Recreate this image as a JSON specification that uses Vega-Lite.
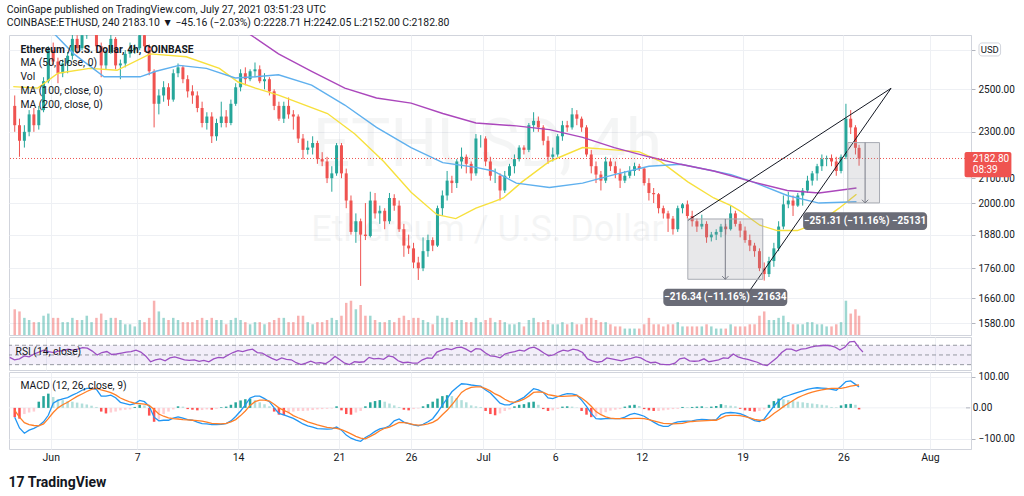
{
"$schema": "https://vega.github.io/schema/vega-lite/v6.json",
"padding": {"left": 6, "top": 4, "right": 0, "bottom": 0},
"background": "white",
"config": {"font": "Roboto", "view": {"stroke": "#d1d4dc"}, "axis": {"labelFont": "Roboto", "labelColor": "#131722", "gridColor": "#eef0f4", "domainColor": "#d1d4dc", "tickColor": "#b2b5be"}},
"title": {"text": "CoinGape published on TradingView.com, July 27, 2021 03:51:23 UTC", "subtitle": "COINBASE:ETHUSD, 240  2183.10 ▼ −45.16 (−2.03%)  O:2228.71 H:2242.05 L:2152.00 C:2182.80", "anchor": "start", "fontSize": 10.4, "fontWeight": "normal", "color": "#131722", "subtitleFontSize": 10.4, "subtitleColor": "#131722", "subtitlePadding": 3, "offset": 6, "font": "Roboto", "subtitleFont": "Roboto"},
"spacing": 0,
"datasets": {
"k": [
{"d":-2.5,"o":2420,"h":2470,"l":2300,"c":2330,"v":60,"r":45,"m":-30,"s":-8,"hi":-30},
{"d":-2.17,"o":2330,"h":2360,"l":2190,"c":2260,"v":55,"r":40,"m":-65,"s":-30,"hi":-35},
{"d":-1.83,"o":2260,"h":2330,"l":2230,"c":2300,"v":40,"r":42,"m":-82,"s":-48,"hi":-20},
{"d":-1.5,"o":2300,"h":2400,"l":2280,"c":2380,"v":35,"r":48,"m":-72,"s":-54,"hi":-15},
{"d":-1.17,"o":2380,"h":2410,"l":2300,"c":2330,"v":30,"r":46,"m":-66,"s":-57,"hi":-12},
{"d":-0.83,"o":2330,"h":2420,"l":2310,"c":2400,"v":30,"r":52,"m":-58,"s":-58,"hi":20},
{"d":-0.5,"o":2400,"h":2560,"l":2390,"c":2540,"v":45,"r":56,"m":-45,"s":-52,"hi":38},
{"d":-0.17,"o":2540,"h":2720,"l":2530,"c":2700,"v":50,"r":60,"m":-24,"s":-35,"hi":46},
{"d":0.17,"o":2700,"h":2740,"l":2620,"c":2640,"v":40,"r":57,"m":15,"s":-15,"hi":35},
{"d":0.5,"o":2640,"h":2660,"l":2530,"c":2580,"v":40,"r":55,"m":24,"s":0,"hi":28},
{"d":0.83,"o":2580,"h":2650,"l":2560,"c":2630,"v":30,"r":58,"m":29,"s":10,"hi":25},
{"d":1.17,"o":2630,"h":2690,"l":2580,"c":2670,"v":30,"r":59,"m":33,"s":18,"hi":22},
{"d":1.5,"o":2670,"h":2800,"l":2650,"c":2760,"v":40,"r":62,"m":41,"s":28,"hi":20},
{"d":1.83,"o":2760,"h":2780,"l":2680,"c":2710,"v":35,"r":60,"m":48,"s":37,"hi":17},
{"d":2.17,"o":2710,"h":2800,"l":2700,"c":2780,"v":35,"r":62,"m":57,"s":45,"hi":14},
{"d":2.5,"o":2780,"h":2890,"l":2760,"c":2850,"v":45,"r":65,"m":63,"s":53,"hi":11},
{"d":2.83,"o":2850,"h":2880,"l":2800,"c":2855,"v":30,"r":64,"m":63,"s":60,"hi":7},
{"d":3.17,"o":2855,"h":2860,"l":2700,"c":2720,"v":40,"r":58,"m":60,"s":64,"hi":3},
{"d":3.5,"o":2720,"h":2740,"l":2560,"c":2620,"v":50,"r":50,"m":38,"s":58,"hi":-12},
{"d":3.83,"o":2620,"h":2700,"l":2600,"c":2690,"v":35,"r":55,"m":38,"s":54,"hi":-18},
{"d":4.17,"o":2690,"h":2815,"l":2680,"c":2760,"v":40,"r":57,"m":41,"s":49,"hi":-15},
{"d":4.5,"o":2760,"h":2770,"l":2600,"c":2620,"v":40,"r":51,"m":33,"s":42,"hi":-12},
{"d":4.83,"o":2620,"h":2650,"l":2550,"c":2630,"v":35,"r":52,"m":18,"s":32,"hi":-8},
{"d":5.17,"o":2630,"h":2700,"l":2610,"c":2680,"v":25,"r":54,"m":14,"s":25,"hi":-6},
{"d":5.5,"o":2680,"h":2740,"l":2660,"c":2700,"v":25,"r":56,"m":10,"s":19,"hi":-5},
{"d":5.83,"o":2700,"h":2730,"l":2680,"c":2710,"v":20,"r":57,"m":14,"s":15,"hi":3},
{"d":6.17,"o":2710,"h":2845,"l":2700,"c":2780,"v":35,"r":60,"m":24,"s":14,"hi":10},
{"d":6.5,"o":2780,"h":2800,"l":2690,"c":2720,"v":30,"r":56,"m":20,"s":12,"hi":8},
{"d":6.83,"o":2720,"h":2730,"l":2570,"c":2590,"v":40,"r":48,"m":5,"s":8,"hi":-25},
{"d":7.17,"o":2590,"h":2600,"l":2320,"c":2430,"v":80,"r":36,"m":-30,"s":-5,"hi":-45},
{"d":7.5,"o":2430,"h":2500,"l":2380,"c":2470,"v":55,"r":40,"m":-42,"s":-20,"hi":-38},
{"d":7.83,"o":2470,"h":2540,"l":2440,"c":2510,"v":40,"r":42,"m":-40,"s":-27,"hi":-20},
{"d":8.17,"o":2510,"h":2530,"l":2420,"c":2450,"v":35,"r":38,"m":-40,"s":-32,"hi":-12},
{"d":8.5,"o":2450,"h":2600,"l":2440,"c":2580,"v":40,"r":44,"m":-33,"s":-35,"hi":-5},
{"d":8.83,"o":2580,"h":2630,"l":2560,"c":2610,"v":35,"r":46,"m":-29,"s":-36,"hi":5},
{"d":9.17,"o":2610,"h":2620,"l":2530,"c":2550,"v":30,"r":43,"m":-33,"s":-38,"hi":4},
{"d":9.5,"o":2550,"h":2570,"l":2460,"c":2490,"v":30,"r":40,"m":-38,"s":-39,"hi":-4},
{"d":9.83,"o":2490,"h":2520,"l":2430,"c":2470,"v":30,"r":39,"m":-40,"s":-40,"hi":-6},
{"d":10.17,"o":2470,"h":2490,"l":2390,"c":2410,"v":35,"r":40,"m":-46,"s":-41,"hi":-8},
{"d":10.5,"o":2410,"h":2440,"l":2320,"c":2340,"v":40,"r":37,"m":-51,"s":-43,"hi":-7},
{"d":10.83,"o":2340,"h":2390,"l":2310,"c":2370,"v":35,"r":39,"m":-52,"s":-46,"hi":-5},
{"d":11.17,"o":2370,"h":2390,"l":2250,"c":2280,"v":40,"r":36,"m":-54,"s":-50,"hi":-6},
{"d":11.5,"o":2280,"h":2360,"l":2260,"c":2340,"v":35,"r":42,"m":-54,"s":-51,"hi":-3},
{"d":11.83,"o":2340,"h":2440,"l":2320,"c":2370,"v":35,"r":45,"m":-53,"s":-52,"hi":2},
{"d":12.17,"o":2370,"h":2400,"l":2320,"c":2340,"v":25,"r":44,"m":-51,"s":-50,"hi":4},
{"d":12.5,"o":2340,"h":2450,"l":2330,"c":2430,"v":35,"r":50,"m":-42,"s":-45,"hi":10},
{"d":12.83,"o":2430,"h":2530,"l":2420,"c":2510,"v":40,"r":55,"m":-28,"s":-38,"hi":18},
{"d":13.17,"o":2510,"h":2600,"l":2490,"c":2580,"v":35,"r":59,"m":-10,"s":-25,"hi":24},
{"d":13.5,"o":2580,"h":2610,"l":2520,"c":2550,"v":30,"r":57,"m":10,"s":-10,"hi":28},
{"d":13.83,"o":2550,"h":2600,"l":2540,"c":2590,"v":25,"r":60,"m":32,"s":8,"hi":30},
{"d":14.17,"o":2590,"h":2635,"l":2560,"c":2600,"v":30,"r":62,"m":38,"s":20,"hi":25},
{"d":14.5,"o":2600,"h":2620,"l":2530,"c":2540,"v":30,"r":55,"m":38,"s":25,"hi":18},
{"d":14.83,"o":2540,"h":2580,"l":2500,"c":2550,"v":25,"r":54,"m":30,"s":25,"hi":12},
{"d":15.17,"o":2550,"h":2560,"l":2470,"c":2490,"v":30,"r":48,"m":20,"s":22,"hi":5},
{"d":15.5,"o":2490,"h":2500,"l":2400,"c":2420,"v":35,"r":43,"m":0,"s":12,"hi":-12},
{"d":15.83,"o":2420,"h":2440,"l":2350,"c":2360,"v":40,"r":39,"m":-18,"s":0,"hi":-22},
{"d":16.17,"o":2360,"h":2440,"l":2340,"c":2420,"v":40,"r":44,"m":-23,"s":-8,"hi":-24},
{"d":16.5,"o":2420,"h":2460,"l":2360,"c":2380,"v":30,"r":41,"m":-28,"s":-15,"hi":-18},
{"d":16.83,"o":2380,"h":2400,"l":2310,"c":2370,"v":30,"r":40,"m":-34,"s":-25,"hi":-12},
{"d":17.17,"o":2370,"h":2380,"l":2250,"c":2270,"v":45,"r":34,"m":-43,"s":-32,"hi":-10},
{"d":17.5,"o":2270,"h":2290,"l":2180,"c":2220,"v":45,"r":30,"m":-52,"s":-38,"hi":-10},
{"d":17.83,"o":2220,"h":2260,"l":2200,"c":2230,"v":30,"r":33,"m":-58,"s":-45,"hi":-9},
{"d":18.17,"o":2230,"h":2280,"l":2200,"c":2250,"v":25,"r":37,"m":-62,"s":-50,"hi":-7},
{"d":18.5,"o":2250,"h":2260,"l":2160,"c":2180,"v":30,"r":33,"m":-67,"s":-55,"hi":-5},
{"d":18.83,"o":2180,"h":2210,"l":2150,"c":2170,"v":30,"r":34,"m":-68,"s":-59,"hi":-4},
{"d":19.17,"o":2170,"h":2190,"l":2080,"c":2100,"v":35,"r":32,"m":-69,"s":-63,"hi":-3},
{"d":19.5,"o":2100,"h":2150,"l":2045,"c":2120,"v":40,"r":38,"m":-68,"s":-65,"hi":-2},
{"d":19.83,"o":2120,"h":2250,"l":2110,"c":2240,"v":35,"r":47,"m":-62,"s":-66,"hi":5},
{"d":20.17,"o":2240,"h":2250,"l":2100,"c":2120,"v":45,"r":40,"m":-72,"s":-70,"hi":-8},
{"d":20.5,"o":2120,"h":2140,"l":1980,"c":2010,"v":75,"r":33,"m":-88,"s":-77,"hi":-20},
{"d":20.83,"o":2010,"h":2030,"l":1880,"c":1890,"v":80,"r":30,"m":-98,"s":-84,"hi":-22},
{"d":21.17,"o":1890,"h":1960,"l":1850,"c":1930,"v":60,"r":36,"m":-104,"s":-92,"hi":-15},
{"d":21.5,"o":1930,"h":1940,"l":1700,"c":1880,"v":70,"r":35,"m":-108,"s":-98,"hi":-10},
{"d":21.83,"o":1880,"h":2000,"l":1860,"c":1875,"v":45,"r":36,"m":-96,"s":-100,"hi":5},
{"d":22.17,"o":1875,"h":2045,"l":1870,"c":2010,"v":45,"r":45,"m":-87,"s":-92,"hi":18},
{"d":22.5,"o":2010,"h":2040,"l":1940,"c":1960,"v":35,"r":42,"m":-76,"s":-84,"hi":22},
{"d":22.83,"o":1960,"h":1990,"l":1920,"c":1970,"v":30,"r":43,"m":-68,"s":-74,"hi":25},
{"d":23.17,"o":1970,"h":1980,"l":1900,"c":1930,"v":30,"r":41,"m":-65,"s":-66,"hi":20},
{"d":23.5,"o":1930,"h":2040,"l":1920,"c":2020,"v":35,"r":48,"m":-58,"s":-62,"hi":14},
{"d":23.83,"o":2020,"h":2035,"l":1970,"c":1990,"v":30,"r":46,"m":-42,"s":-55,"hi":8},
{"d":24.17,"o":1990,"h":2010,"l":1890,"c":1900,"v":40,"r":38,"m":-36,"s":-47,"hi":3},
{"d":24.5,"o":1900,"h":1920,"l":1800,"c":1840,"v":45,"r":34,"m":-46,"s":-48,"hi":-6},
{"d":24.83,"o":1840,"h":1880,"l":1810,"c":1830,"v":35,"r":35,"m":-51,"s":-50,"hi":-8},
{"d":25.17,"o":1830,"h":1850,"l":1760,"c":1780,"v":40,"r":33,"m":-55,"s":-54,"hi":-4},
{"d":25.5,"o":1780,"h":1800,"l":1720,"c":1760,"v":40,"r":33,"m":-58,"s":-56,"hi":-2},
{"d":25.83,"o":1760,"h":1870,"l":1750,"c":1820,"v":35,"r":40,"m":-53,"s":-55,"hi":5},
{"d":26.17,"o":1820,"h":1880,"l":1800,"c":1860,"v":30,"r":44,"m":-45,"s":-52,"hi":12},
{"d":26.5,"o":1860,"h":1870,"l":1820,"c":1840,"v":25,"r":43,"m":-35,"s":-47,"hi":20},
{"d":26.83,"o":1840,"h":1990,"l":1835,"c":1980,"v":45,"r":56,"m":-15,"s":-38,"hi":30},
{"d":27.17,"o":1980,"h":2050,"l":1950,"c":2030,"v":40,"r":60,"m":9,"s":-22,"hi":38},
{"d":27.5,"o":2030,"h":2130,"l":2010,"c":2090,"v":40,"r":63,"m":30,"s":-8,"hi":41},
{"d":27.83,"o":2090,"h":2110,"l":2040,"c":2080,"v":30,"r":61,"m":52,"s":10,"hi":38},
{"d":28.17,"o":2080,"h":2180,"l":2060,"c":2170,"v":35,"r":65,"m":66,"s":30,"hi":32},
{"d":28.5,"o":2170,"h":2230,"l":2140,"c":2190,"v":35,"r":66,"m":78,"s":50,"hi":25},
{"d":28.83,"o":2190,"h":2200,"l":2120,"c":2160,"v":30,"r":62,"m":77,"s":60,"hi":18},
{"d":29.17,"o":2160,"h":2170,"l":2090,"c":2120,"v":30,"r":56,"m":74,"s":66,"hi":8},
{"d":29.5,"o":2120,"h":2290,"l":2110,"c":2270,"v":40,"r":63,"m":72,"s":68,"hi":5},
{"d":29.83,"o":2270,"h":2285,"l":2230,"c":2270,"v":30,"r":62,"m":70,"s":68,"hi":3},
{"d":30.17,"o":2270,"h":2280,"l":2150,"c":2170,"v":35,"r":54,"m":58,"s":62,"hi":-10},
{"d":30.5,"o":2170,"h":2190,"l":2090,"c":2110,"v":40,"r":48,"m":48,"s":55,"hi":-20},
{"d":30.83,"o":2110,"h":2140,"l":2080,"c":2110,"v":30,"r":47,"m":32,"s":45,"hi":-24},
{"d":31.17,"o":2110,"h":2120,"l":2010,"c":2050,"v":35,"r":44,"m":15,"s":38,"hi":-18},
{"d":31.5,"o":2050,"h":2130,"l":2040,"c":2110,"v":30,"r":52,"m":10,"s":28,"hi":-10},
{"d":31.83,"o":2110,"h":2160,"l":2100,"c":2150,"v":25,"r":55,"m":10,"s":20,"hi":-5},
{"d":32.17,"o":2150,"h":2200,"l":2120,"c":2180,"v":25,"r":57,"m":18,"s":18,"hi":5},
{"d":32.5,"o":2180,"h":2240,"l":2170,"c":2230,"v":30,"r":60,"m":26,"s":22,"hi":10},
{"d":32.83,"o":2230,"h":2240,"l":2200,"c":2220,"v":20,"r":58,"m":34,"s":28,"hi":12},
{"d":33.17,"o":2220,"h":2340,"l":2210,"c":2330,"v":35,"r":64,"m":48,"s":38,"hi":18},
{"d":33.5,"o":2330,"h":2390,"l":2300,"c":2350,"v":40,"r":66,"m":62,"s":50,"hi":20},
{"d":33.83,"o":2350,"h":2370,"l":2300,"c":2320,"v":30,"r":61,"m":58,"s":52,"hi":10},
{"d":34.17,"o":2320,"h":2330,"l":2240,"c":2260,"v":30,"r":54,"m":50,"s":50,"hi":-4},
{"d":34.5,"o":2260,"h":2280,"l":2160,"c":2190,"v":35,"r":48,"m":32,"s":43,"hi":-10},
{"d":34.83,"o":2190,"h":2230,"l":2170,"c":2200,"v":25,"r":50,"m":30,"s":40,"hi":-8},
{"d":35.17,"o":2200,"h":2290,"l":2190,"c":2280,"v":25,"r":56,"m":36,"s":37,"hi":-3},
{"d":35.5,"o":2280,"h":2350,"l":2260,"c":2330,"v":30,"r":60,"m":42,"s":37,"hi":4},
{"d":35.83,"o":2330,"h":2350,"l":2300,"c":2320,"v":25,"r":58,"m":46,"s":38,"hi":5},
{"d":36.17,"o":2320,"h":2410,"l":2310,"c":2380,"v":30,"r":62,"m":45,"s":39,"hi":4},
{"d":36.5,"o":2380,"h":2400,"l":2330,"c":2360,"v":25,"r":60,"m":41,"s":40,"hi":1},
{"d":36.83,"o":2360,"h":2370,"l":2300,"c":2320,"v":25,"r":55,"m":25,"s":32,"hi":-10},
{"d":37.17,"o":2320,"h":2330,"l":2190,"c":2200,"v":40,"r":42,"m":5,"s":20,"hi":-22},
{"d":37.5,"o":2200,"h":2220,"l":2120,"c":2150,"v":40,"r":38,"m":-18,"s":5,"hi":-30},
{"d":37.83,"o":2150,"h":2170,"l":2080,"c":2115,"v":35,"r":35,"m":-35,"s":-12,"hi":-28},
{"d":38.17,"o":2115,"h":2130,"l":2050,"c":2090,"v":30,"r":37,"m":-36,"s":-22,"hi":-20},
{"d":38.5,"o":2090,"h":2190,"l":2080,"c":2170,"v":30,"r":44,"m":-35,"s":-29,"hi":-14},
{"d":38.83,"o":2170,"h":2185,"l":2130,"c":2150,"v":25,"r":42,"m":-35,"s":-33,"hi":-9},
{"d":39.17,"o":2150,"h":2170,"l":2100,"c":2120,"v":20,"r":40,"m":-35,"s":-35,"hi":-6},
{"d":39.5,"o":2120,"h":2140,"l":2060,"c":2090,"v":20,"r":38,"m":-35,"s":-35,"hi":-4},
{"d":39.83,"o":2090,"h":2130,"l":2080,"c":2110,"v":15,"r":41,"m":-30,"s":-35,"hi":4},
{"d":40.17,"o":2110,"h":2150,"l":2100,"c":2130,"v":15,"r":43,"m":-22,"s":-35,"hi":8},
{"d":40.5,"o":2130,"h":2165,"l":2110,"c":2150,"v":15,"r":46,"m":-18,"s":-34,"hi":10},
{"d":40.83,"o":2150,"h":2160,"l":2130,"c":2140,"v":15,"r":44,"m":-22,"s":-34,"hi":6},
{"d":41.17,"o":2140,"h":2145,"l":2070,"c":2080,"v":25,"r":38,"m":-27,"s":-35,"hi":-4},
{"d":41.5,"o":2080,"h":2100,"l":2010,"c":2040,"v":40,"r":34,"m":-37,"s":-38,"hi":-8},
{"d":41.83,"o":2040,"h":2060,"l":2000,"c":2035,"v":25,"r":35,"m":-46,"s":-42,"hi":-10},
{"d":42.17,"o":2035,"h":2040,"l":1960,"c":1980,"v":25,"r":31,"m":-55,"s":-46,"hi":-10},
{"d":42.5,"o":1980,"h":1990,"l":1940,"c":1960,"v":20,"r":30,"m":-60,"s":-50,"hi":-8},
{"d":42.83,"o":1960,"h":1970,"l":1890,"c":1940,"v":25,"r":30,"m":-60,"s":-51,"hi":-6},
{"d":43.17,"o":1940,"h":1950,"l":1880,"c":1900,"v":25,"r":33,"m":-50,"s":-52,"hi":-4},
{"d":43.5,"o":1900,"h":1990,"l":1890,"c":1980,"v":30,"r":42,"m":-45,"s":-51,"hi":-3},
{"d":43.83,"o":1980,"h":2000,"l":1960,"c":1995,"v":20,"r":44,"m":-44,"s":-50,"hi":3},
{"d":44.17,"o":1995,"h":2010,"l":1940,"c":1950,"v":20,"r":38,"m":-43,"s":-46,"hi":2},
{"d":44.5,"o":1950,"h":1970,"l":1910,"c":1930,"v":20,"r":37,"m":-42,"s":-44,"hi":3},
{"d":44.83,"o":1930,"h":1940,"l":1890,"c":1910,"v":20,"r":38,"m":-39,"s":-43,"hi":4},
{"d":45.17,"o":1910,"h":1955,"l":1900,"c":1920,"v":20,"r":42,"m":-37,"s":-42,"hi":5},
{"d":45.5,"o":1920,"h":1930,"l":1850,"c":1870,"v":25,"r":36,"m":-38,"s":-41,"hi":3},
{"d":45.83,"o":1870,"h":1890,"l":1855,"c":1880,"v":20,"r":38,"m":-40,"s":-40,"hi":4},
{"d":46.17,"o":1880,"h":1900,"l":1860,"c":1890,"v":15,"r":40,"m":-38,"s":-40,"hi":6},
{"d":46.5,"o":1890,"h":1920,"l":1870,"c":1910,"v":15,"r":44,"m":-22,"s":-33,"hi":12},
{"d":46.83,"o":1910,"h":1920,"l":1880,"c":1900,"v":15,"r":43,"m":-16,"s":-26,"hi":9},
{"d":47.17,"o":1900,"h":1990,"l":1895,"c":1960,"v":25,"r":52,"m":-15,"s":-24,"hi":7},
{"d":47.5,"o":1960,"h":1970,"l":1910,"c":1920,"v":20,"r":46,"m":-16,"s":-24,"hi":5},
{"d":47.83,"o":1920,"h":1930,"l":1870,"c":1895,"v":20,"r":43,"m":-19,"s":-25,"hi":-3},
{"d":48.17,"o":1895,"h":1910,"l":1850,"c":1860,"v":20,"r":41,"m":-25,"s":-28,"hi":-8},
{"d":48.5,"o":1860,"h":1880,"l":1820,"c":1840,"v":25,"r":38,"m":-33,"s":-32,"hi":-10},
{"d":48.83,"o":1840,"h":1850,"l":1800,"c":1820,"v":25,"r":35,"m":-41,"s":-37,"hi":-12},
{"d":49.17,"o":1820,"h":1830,"l":1750,"c":1760,"v":45,"r":30,"m":-44,"s":-40,"hi":-10},
{"d":49.5,"o":1760,"h":1780,"l":1718,"c":1740,"v":55,"r":28,"m":-36,"s":-40,"hi":-5},
{"d":49.83,"o":1740,"h":1800,"l":1730,"c":1785,"v":35,"r":36,"m":-15,"s":-31,"hi":10},
{"d":50.17,"o":1785,"h":1850,"l":1765,"c":1830,"v":35,"r":44,"m":5,"s":-18,"hi":22},
{"d":50.5,"o":1830,"h":1930,"l":1820,"c":1910,"v":40,"r":55,"m":22,"s":-8,"hi":30},
{"d":50.83,"o":1910,"h":2030,"l":1900,"c":1995,"v":45,"r":62,"m":35,"s":4,"hi":28},
{"d":51.17,"o":1995,"h":2045,"l":1980,"c":2010,"v":30,"r":62,"m":40,"s":14,"hi":25},
{"d":51.5,"o":2010,"h":2030,"l":1950,"c":1990,"v":25,"r":58,"m":45,"s":24,"hi":22},
{"d":51.83,"o":1990,"h":2040,"l":1985,"c":2030,"v":25,"r":62,"m":50,"s":33,"hi":20},
{"d":52.17,"o":2030,"h":2060,"l":1990,"c":2050,"v":25,"r":63,"m":55,"s":40,"hi":18},
{"d":52.5,"o":2050,"h":2110,"l":2040,"c":2090,"v":30,"r":66,"m":60,"s":46,"hi":16},
{"d":52.83,"o":2090,"h":2130,"l":2070,"c":2120,"v":30,"r":68,"m":63,"s":51,"hi":14},
{"d":53.17,"o":2120,"h":2160,"l":2090,"c":2150,"v":25,"r":69,"m":65,"s":55,"hi":12},
{"d":53.5,"o":2150,"h":2200,"l":2130,"c":2180,"v":25,"r":70,"m":64,"s":58,"hi":10},
{"d":53.83,"o":2180,"h":2195,"l":2150,"c":2185,"v":20,"r":69,"m":63,"s":61,"hi":8},
{"d":54.17,"o":2185,"h":2200,"l":2150,"c":2170,"v":20,"r":66,"m":60,"s":63,"hi":3},
{"d":54.5,"o":2170,"h":2190,"l":2110,"c":2130,"v":25,"r":60,"m":57,"s":63,"hi":2},
{"d":54.83,"o":2130,"h":2200,"l":2120,"c":2190,"v":30,"r":66,"m":70,"s":63,"hi":8},
{"d":55.17,"o":2190,"h":2430,"l":2180,"c":2360,"v":80,"r":77,"m":85,"s":66,"hi":12},
{"d":55.5,"o":2360,"h":2400,"l":2290,"c":2320,"v":50,"r":78,"m":87,"s":70,"hi":13},
{"d":55.83,"o":2320,"h":2330,"l":2200,"c":2229,"v":60,"r":64,"m":76,"s":73,"hi":10},
{"d":56.08,"o":2228.71,"h":2242.05,"l":2152,"c":2182.8,"v":45,"r":56,"m":68,"s":74,"hi":-5}
],
"ma": [
{"k":"50","d":-2.6,"p":2513},{"k":"50","d":-0.9,"p":2506},{"k":"50","d":0.5,"p":2580},{"k":"50","d":2.7,"p":2605},{"k":"50","d":4.6,"p":2595},{"k":"50","d":6.9,"p":2680},{"k":"50","d":9.4,"p":2665},{"k":"50","d":11.7,"p":2605},{"k":"50","d":13.0,"p":2536},{"k":"50","d":14.2,"p":2506},{"k":"50","d":15.8,"p":2472},{"k":"50","d":19.2,"p":2384},{"k":"50","d":21.1,"p":2290},{"k":"50","d":23.1,"p":2170},{"k":"50","d":25.0,"p":2043},{"k":"50","d":26.8,"p":1955},{"k":"50","d":28.1,"p":1940},{"k":"50","d":29.5,"p":1980},{"k":"50","d":30.7,"p":2005},{"k":"50","d":31.4,"p":2020},{"k":"50","d":32.7,"p":2085},{"k":"50","d":34.6,"p":2170},{"k":"50","d":36.9,"p":2230},{"k":"50","d":39.1,"p":2220},{"k":"50","d":40.8,"p":2212},{"k":"50","d":42.3,"p":2170},{"k":"50","d":44.2,"p":2085},{"k":"50","d":46.0,"p":2020},{"k":"50","d":47.2,"p":1990},{"k":"50","d":47.8,"p":1970},{"k":"50","d":49.2,"p":1915},{"k":"50","d":50.4,"p":1895},{"k":"50","d":51.8,"p":1895},{"k":"50","d":53.3,"p":1925},{"k":"50","d":54.7,"p":1980},{"k":"50","d":55.9,"p":2035},
{"k":"100","d":-2.6,"p":3000},{"k":"100","d":-0.4,"p":2840},{"k":"100","d":1.6,"p":2680},{"k":"100","d":3.7,"p":2562},{"k":"100","d":6.2,"p":2562},{"k":"100","d":7.3,"p":2590},{"k":"100","d":8.9,"p":2620},{"k":"100","d":10.8,"p":2605},{"k":"100","d":12.8,"p":2556},{"k":"100","d":14.2,"p":2562},{"k":"100","d":15.8,"p":2572},{"k":"100","d":18.1,"p":2521},{"k":"100","d":20.4,"p":2424},{"k":"100","d":22.6,"p":2320},{"k":"100","d":25.0,"p":2230},{"k":"100","d":27.2,"p":2165},{"k":"100","d":29.5,"p":2145},{"k":"100","d":30.7,"p":2130},{"k":"100","d":32.3,"p":2080},{"k":"100","d":34.6,"p":2062},{"k":"100","d":36.9,"p":2080},{"k":"100","d":39.1,"p":2115},{"k":"100","d":41.5,"p":2150},{"k":"100","d":43.7,"p":2158},{"k":"100","d":46.0,"p":2130},{"k":"100","d":47.2,"p":2115},{"k":"100","d":48.7,"p":2085},{"k":"100","d":51.1,"p":2030},{"k":"100","d":53.3,"p":2000},{"k":"100","d":55.9,"p":2005},
{"k":"200","d":10.0,"p":3000},{"k":"200","d":13.9,"p":2780},{"k":"200","d":15.8,"p":2680},{"k":"200","d":18.1,"p":2590},{"k":"200","d":20.4,"p":2506},{"k":"200","d":22.6,"p":2458},{"k":"200","d":25.0,"p":2433},{"k":"200","d":27.2,"p":2384},{"k":"200","d":29.5,"p":2340},{"k":"200","d":32.3,"p":2327},{"k":"200","d":34.6,"p":2310},{"k":"200","d":36.9,"p":2275},{"k":"200","d":39.1,"p":2230},{"k":"200","d":41.5,"p":2190},{"k":"200","d":43.7,"p":2158},{"k":"200","d":46.0,"p":2130},{"k":"200","d":48.7,"p":2085},{"k":"200","d":51.1,"p":2050},{"k":"200","d":53.3,"p":2040},{"k":"200","d":55.9,"p":2060}
],
"tr": [{"g":"u","d":44.2,"p":1933},{"g":"u","d":58.3,"p":2505},{"g":"l","d":48.4,"p":1678},{"g":"l","d":58.3,"p":2505}],
"bx": [{"d1":44.2,"d2":49.4,"p1":1938.6,"p2":1722.3,"ax":46.8},{"d1":55.3,"d2":57.5,"p1":2251.9,"p2":2000.6,"ax":56.5}],
"lb": [{"d1":42.5,"d2":51.1,"p1":1634,"p2":1691,"tx":46.8,"tp":1662,"t":"−216.34 (−11.16%) −21634"},{"d1":52.2,"d2":60.8,"p1":1897,"p2":1964,"tx":56.5,"tp":1929,"t":"−251.31 (−11.16%) −25131"}]
},
"vconcat": [
{
"width": 962, "height": 300,
"layer": [
{"data": {"name": "k"}, "mark": {"type": "bar", "size": 2.5, "opacity": 0.45},
 "encoding": {
  "x": {"field": "d", "type": "quantitative", "scale": {"domain": [-2.55, 63.5], "nice": false, "zero": false}, "axis": {"values": [0,6,13,20,25,30,35,41,48,55,61], "labels": false, "ticks": false, "domain": false, "title": null, "grid": true, "gridColor": "#eef0f4"}},
  "y": {"field": "v", "type": "quantitative", "scale": {"domain": [0, 700]}, "axis": null},
  "color": {"condition": {"test": "datum.c>=datum.o", "value": "#26a69a"}, "value": "#ef5350"}}},
{"layer": [
 {"data": {"values": [{"d": 30.3, "p": 2236, "t": "ETHUSD, 4h"}]}, "mark": {"type": "text", "fontSize": 66, "color": "#131722", "opacity": 0.04, "align": "center", "baseline": "middle"},
  "encoding": {"x": {"field": "d", "type": "quantitative", "scale": {"domain": [-2.55, 63.5], "nice": false, "zero": false}}, "y": {"field": "p", "type": "quantitative", "scale": {"type": "log", "domain": [1544, 2781], "nice": false}, "axis": {"orient": "right", "values": [1580,1660,1760,1880,2000,2100,2300,2500,2700], "format": ".2f", "labelExpr": "datum.value==2700?'':datum.label", "title": null, "grid": true, "gridColor": "#eef0f4", "tickSize": 4, "labelFontSize": 10, "labelPadding": 3, "labelOverlap": false, "domainColor": "#d1d4dc"}}, "text": {"field": "t"}}},
 {"data": {"values": [{"d": 30.3, "p": 1898, "t": "Ethereum / U.S. Dollar"}]}, "mark": {"type": "text", "fontSize": 36, "color": "#131722", "opacity": 0.04, "align": "center", "baseline": "middle"},
  "encoding": {"x": {"field": "d", "type": "quantitative", "scale": {"domain": [-2.55, 63.5], "nice": false, "zero": false}}, "y": {"field": "p", "type": "quantitative", "scale": {"type": "log", "domain": [1544, 2781], "nice": false}}, "text": {"field": "t"}}},
 {"data": {"name": "k"}, "mark": {"type": "rule", "clip": true, "strokeWidth": 1},
  "encoding": {"x": {"field": "d", "type": "quantitative", "scale": {"domain": [-2.55, 63.5], "nice": false, "zero": false}}, "y": {"field": "l", "type": "quantitative", "scale": {"type": "log", "domain": [1544, 2781], "nice": false}}, "y2": {"field": "h"}, "color": {"condition": {"test": "datum.c>=datum.o", "value": "#26a69a"}, "value": "#ef5350"}}},
 {"data": {"name": "k"}, "mark": {"type": "bar", "clip": true, "size": 3},
  "encoding": {"x": {"field": "d", "type": "quantitative", "scale": {"domain": [-2.55, 63.5], "nice": false, "zero": false}}, "y": {"field": "o", "type": "quantitative", "scale": {"type": "log", "domain": [1544, 2781], "nice": false}}, "y2": {"field": "c"}, "color": {"condition": {"test": "datum.c>=datum.o", "value": "#26a69a"}, "value": "#ef5350"}}},
 {"data": {"name": "ma"}, "mark": {"type": "line", "clip": true, "strokeWidth": 1.4},
  "encoding": {"x": {"field": "d", "type": "quantitative", "scale": {"domain": [-2.55, 63.5], "nice": false, "zero": false}}, "y": {"field": "p", "type": "quantitative", "scale": {"type": "log", "domain": [1544, 2781], "nice": false}}, "color": {"field": "k", "type": "nominal", "scale": {"domain": ["50","100","200"], "range": ["#f7e03c","#5fb0ee","#ab47bc"]}, "legend": null}, "detail": {"field": "k"}}},
 {"data": {"values": [{"p": 2182.8}]}, "mark": {"type": "rule", "color": "#ef5350", "strokeDash": [1, 2], "strokeWidth": 1},
  "encoding": {"y": {"field": "p", "type": "quantitative", "scale": {"type": "log", "domain": [1544, 2781], "nice": false}}}},
 {"data": {"name": "tr"}, "mark": {"type": "line", "color": "#131722", "strokeWidth": 1},
  "encoding": {"x": {"field": "d", "type": "quantitative", "scale": {"domain": [-2.55, 63.5], "nice": false, "zero": false}}, "y": {"field": "p", "type": "quantitative", "scale": {"type": "log", "domain": [1544, 2781], "nice": false}}, "detail": {"field": "g"}}},
 {"data": {"name": "bx"}, "mark": {"type": "rect", "fill": "#9598a1", "fillOpacity": 0.22, "stroke": "#a9acb4", "strokeWidth": 1},
  "encoding": {"x": {"field": "d1", "type": "quantitative", "scale": {"domain": [-2.55, 63.5], "nice": false, "zero": false}}, "x2": {"field": "d2"}, "y": {"field": "p1", "type": "quantitative", "scale": {"type": "log", "domain": [1544, 2781], "nice": false}}, "y2": {"field": "p2"}}},
 {"data": {"name": "bx"}, "mark": {"type": "rule", "color": "#787b86", "strokeWidth": 1},
  "encoding": {"x": {"field": "ax", "type": "quantitative", "scale": {"domain": [-2.55, 63.5], "nice": false, "zero": false}}, "y": {"field": "p1", "type": "quantitative", "scale": {"type": "log", "domain": [1544, 2781], "nice": false}}, "y2": {"field": "p2"}}},
 {"data": {"name": "bx"}, "mark": {"type": "point", "shape": "M-1,-1L0,0L1,-1", "size": 40, "filled": false, "stroke": "#787b86", "strokeWidth": 1, "opacity": 1},
  "encoding": {"x": {"field": "ax", "type": "quantitative", "scale": {"domain": [-2.55, 63.5], "nice": false, "zero": false}}, "y": {"field": "p2", "type": "quantitative", "scale": {"type": "log", "domain": [1544, 2781], "nice": false}}}},
 {"data": {"name": "lb"}, "mark": {"type": "rect", "fill": "#5d606b", "opacity": 0.92, "cornerRadius": 4},
  "encoding": {"x": {"field": "d1", "type": "quantitative", "scale": {"domain": [-2.55, 63.5], "nice": false, "zero": false}}, "x2": {"field": "d2"}, "y": {"field": "p1", "type": "quantitative", "scale": {"type": "log", "domain": [1544, 2781], "nice": false}}, "y2": {"field": "p2"}}},
 {"data": {"name": "lb"}, "mark": {"type": "text", "color": "white", "fontSize": 10, "fontWeight": "bold", "align": "center", "baseline": "middle"},
  "encoding": {"x": {"field": "tx", "type": "quantitative", "scale": {"domain": [-2.55, 63.5], "nice": false, "zero": false}}, "y": {"field": "tp", "type": "quantitative", "scale": {"type": "log", "domain": [1544, 2781], "nice": false}}, "text": {"field": "t"}}},
 {"data": {"values": [{"d": -2.1, "p": 2701, "t": "Ethereum / U.S. Dollar, 4h, COINBASE"}]}, "mark": {"type": "text", "fontSize": 10.3, "fontWeight": "bold", "color": "#131722", "align": "left", "baseline": "middle"},
  "encoding": {"x": {"field": "d", "type": "quantitative", "scale": {"domain": [-2.55, 63.5], "nice": false, "zero": false}}, "y": {"field": "p", "type": "quantitative", "scale": {"type": "log", "domain": [1544, 2781], "nice": false}}, "text": {"field": "t"}}},
 {"data": {"values": [{"d": -2.1, "p": 2631, "t": "MA (50, close, 0)"}, {"d": -2.1, "p": 2560, "t": "Vol"}, {"d": -2.1, "p": 2493, "t": "MA (100, close, 0)"}, {"d": -2.1, "p": 2425, "t": "MA (200, close, 0)"}]}, "mark": {"type": "text", "fontSize": 10.3, "color": "#131722", "align": "left", "baseline": "middle"},
  "encoding": {"x": {"field": "d", "type": "quantitative", "scale": {"domain": [-2.55, 63.5], "nice": false, "zero": false}}, "y": {"field": "p", "type": "quantitative", "scale": {"type": "log", "domain": [1544, 2781], "nice": false}}, "text": {"field": "t"}}},
 {"data": {"values": [{"d1": 63.4, "d2": 66.65, "p1": 2104, "p2": 2211}]}, "mark": {"type": "rect", "fill": "#ef5350", "cornerRadius": 2},
  "encoding": {"x": {"field": "d1", "type": "quantitative", "scale": {"domain": [-2.55, 63.5], "nice": false, "zero": false}}, "x2": {"field": "d2"}, "y": {"field": "p1", "type": "quantitative", "scale": {"type": "log", "domain": [1544, 2781], "nice": false}}, "y2": {"field": "p2"}}},
 {"data": {"values": [{"d": 63.97, "p": 2182, "t": "2182.80"}, {"d": 63.97, "p": 2136, "t": "08:39"}]}, "mark": {"type": "text", "fontSize": 10, "color": "white", "align": "left", "baseline": "middle"},
  "encoding": {"x": {"field": "d", "type": "quantitative", "scale": {"domain": [-2.55, 63.5], "nice": false, "zero": false}}, "y": {"field": "p", "type": "quantitative", "scale": {"type": "log", "domain": [1544, 2781], "nice": false}}, "text": {"field": "t"}}},
 {"data": {"values": [{"d1": 64.4, "d2": 65.9, "p1": 2669, "p2": 2738}]}, "mark": {"type": "rect", "fill": "white", "stroke": "#d1d4dc", "cornerRadius": 3},
  "encoding": {"x": {"field": "d1", "type": "quantitative", "scale": {"domain": [-2.55, 63.5], "nice": false, "zero": false}}, "x2": {"field": "d2"}, "y": {"field": "p1", "type": "quantitative", "scale": {"type": "log", "domain": [1544, 2781], "nice": false}}, "y2": {"field": "p2"}}},
 {"data": {"values": [{"d": 65.15, "p": 2703, "t": "USD"}]}, "mark": {"type": "text", "fontSize": 9.5, "color": "#131722", "align": "center", "baseline": "middle"},
  "encoding": {"x": {"field": "d", "type": "quantitative", "scale": {"domain": [-2.55, 63.5], "nice": false, "zero": false}}, "y": {"field": "p", "type": "quantitative", "scale": {"type": "log", "domain": [1544, 2781], "nice": false}}, "text": {"field": "t"}}}
]}
],
"resolve": {"scale": {"y": "independent"}}
},
{
"width": 962, "height": 33,
"layer": [
 {"data": {"values": [{"x1": -2.55, "x2": 63.5, "lo": 30, "hi": 70}]}, "mark": {"type": "rect", "fill": "#7e57c2", "fillOpacity": 0.1},
  "encoding": {"x": {"field": "x1", "type": "quantitative", "scale": {"domain": [-2.55, 63.5], "nice": false, "zero": false}, "axis": {"values": [0,6,13,20,25,30,35,41,48,55,61], "labels": false, "ticks": false, "domain": false, "title": null, "grid": true, "gridColor": "#eef0f4"}}, "x2": {"field": "x2"}, "y": {"field": "hi", "type": "quantitative", "scale": {"domain": [19, 87], "nice": false, "zero": false}, "axis": null}, "y2": {"field": "lo"}}},
 {"data": {"values": [{"lv": 70}, {"lv": 50}, {"lv": 30}]}, "mark": {"type": "rule", "color": "#9598a1", "strokeDash": [4, 3], "strokeWidth": 1},
  "encoding": {"y": {"field": "lv", "type": "quantitative", "scale": {"domain": [19, 87], "nice": false, "zero": false}, "axis": null}}},
 {"data": {"name": "k"}, "mark": {"type": "line", "color": "#9c4fc3", "strokeWidth": 1.3},
  "encoding": {"x": {"field": "d", "type": "quantitative", "scale": {"domain": [-2.55, 63.5], "nice": false, "zero": false}}, "y": {"field": "r", "type": "quantitative", "scale": {"domain": [19, 87], "nice": false, "zero": false}, "axis": null}}},
 {"data": {"values": [{"d": -2.1, "v": 56, "t": "RSI (14, close)"}]}, "mark": {"type": "text", "fontSize": 10.3, "color": "#131722", "align": "left", "baseline": "middle"},
  "encoding": {"x": {"field": "d", "type": "quantitative", "scale": {"domain": [-2.55, 63.5], "nice": false, "zero": false}}, "y": {"field": "v", "type": "quantitative", "scale": {"domain": [19, 87], "nice": false, "zero": false}, "axis": null}, "text": {"field": "t"}}}
]
},
{
"width": 962, "height": 77,
"layer": [
 {"data": {"values": [{"z": 0}]}, "mark": {"type": "rule", "color": "#eef0f4", "strokeWidth": 1},
  "encoding": {"y": {"field": "z", "type": "quantitative", "scale": {"domain": [-133, 116], "nice": false, "zero": false}, "axis": {"orient": "right", "values": [-100, 100], "format": ".2f", "title": null, "grid": true, "gridColor": "#eef0f4", "tickSize": 4, "labelFontSize": 10, "labelPadding": 3, "labelOverlap": false, "domainColor": "#d1d4dc"}}}},
 {"data": {"name": "k"}, "transform": [{"window": [{"op": "lag", "field": "hi", "as": "ph"}], "sort": [{"field": "d"}]}], "mark": {"type": "bar", "size": 2.5},
  "encoding": {"x": {"field": "d", "type": "quantitative", "scale": {"domain": [-2.55, 63.5], "nice": false, "zero": false}, "axis": {"values": [0,6,13,20,25,30,35,41,48,55,61], "labelExpr": "datum.value==0?'Jun':datum.value==30?'Jul':datum.value==61?'Aug':datum.value<30?''+(datum.value+1):''+(datum.value-29)", "grid": true, "gridColor": "#eef0f4", "ticks": false, "domain": false, "labelPadding": 3, "labelFontSize": 10.5, "labelColor": "#131722", "title": "17 TradingView", "titleAnchor": "start", "titleAlign": "left", "titleX": -1, "titleY": 33, "titleBaseline": "middle", "titleFontSize": 14, "titleFontWeight": "bold", "titleColor": "#131722", "titleFont": "Roboto"}},
   "y": {"field": "hi", "type": "quantitative", "scale": {"domain": [-133, 116], "nice": false, "zero": false}},
   "y2": {"datum": 0},
   "color": {"condition": [{"test": "datum.hi>=0 && datum.hi>=datum.ph", "value": "#26a69a"}, {"test": "datum.hi>=0", "value": "#b2dfdb"}, {"test": "datum.hi<datum.ph", "value": "#ff5252"}], "value": "#ffcdd2"}}},
 {"data": {"name": "k"}, "mark": {"type": "line", "color": "#2196f3", "strokeWidth": 1.3},
  "encoding": {"x": {"field": "d", "type": "quantitative", "scale": {"domain": [-2.55, 63.5], "nice": false, "zero": false}}, "y": {"field": "m", "type": "quantitative", "scale": {"domain": [-133, 116], "nice": false, "zero": false}}}},
 {"data": {"name": "k"}, "mark": {"type": "line", "color": "#ff7f27", "strokeWidth": 1.3},
  "encoding": {"x": {"field": "d", "type": "quantitative", "scale": {"domain": [-2.55, 63.5], "nice": false, "zero": false}}, "y": {"field": "s", "type": "quantitative", "scale": {"domain": [-133, 116], "nice": false, "zero": false}}}},
 {"data": {"values": [{"d": 63.5, "d2": 63.78, "z": 0}]}, "mark": {"type": "rule", "color": "#b2b5be", "strokeWidth": 1},
  "encoding": {"x": {"field": "d", "type": "quantitative", "scale": {"domain": [-2.55, 63.5], "nice": false, "zero": false}}, "x2": {"field": "d2"}, "y": {"field": "z", "type": "quantitative", "scale": {"domain": [-133, 116], "nice": false, "zero": false}}}},
 {"data": {"values": [{"d": 63.97, "z": 0, "t": "0.00"}]}, "mark": {"type": "text", "fontSize": 10, "color": "#131722", "align": "left", "baseline": "middle"},
  "encoding": {"x": {"field": "d", "type": "quantitative", "scale": {"domain": [-2.55, 63.5], "nice": false, "zero": false}}, "y": {"field": "z", "type": "quantitative", "scale": {"domain": [-133, 116], "nice": false, "zero": false}}, "text": {"field": "t"}}},
 {"data": {"values": [{"d": -2.1, "v": 70, "t": "MACD (12, 26, close, 9)"}]}, "mark": {"type": "text", "fontSize": 10.3, "color": "#131722", "align": "left", "baseline": "middle"},
  "encoding": {"x": {"field": "d", "type": "quantitative", "scale": {"domain": [-2.55, 63.5], "nice": false, "zero": false}}, "y": {"field": "v", "type": "quantitative", "scale": {"domain": [-133, 116], "nice": false, "zero": false}}, "text": {"field": "t"}}}
]
}
]
}
